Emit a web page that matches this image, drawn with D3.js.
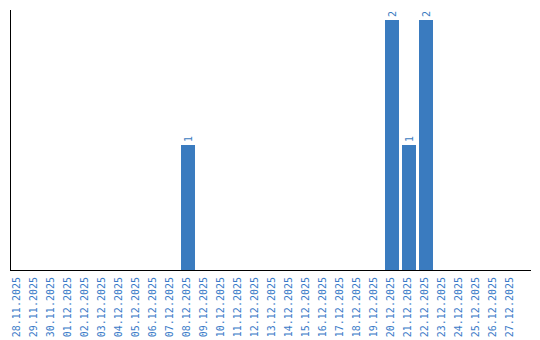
<!DOCTYPE html>
<html>
<head>
<meta charset="utf-8">
<script src="https://cdn.jsdelivr.net/npm/d3@7"></script>
<style>
body{margin:0;background:#fff;}
</style>
</head>
<body>
<div id="wrapper"></div>
<script>
// Data
const dates = ['28.11.2025','29.11.2025','30.11.2025','01.12.2025','02.12.2025','03.12.2025','04.12.2025','05.12.2025','06.12.2025','07.12.2025','08.12.2025','09.12.2025','10.12.2025','11.12.2025','12.12.2025','13.12.2025','14.12.2025','15.12.2025','16.12.2025','17.12.2025','18.12.2025','19.12.2025','20.12.2025','21.12.2025','22.12.2025','23.12.2025','24.12.2025','25.12.2025','26.12.2025','27.12.2025'];
const counts = [0,0,0,0,0,0,0,0,0,0,1,0,0,0,0,0,0,0,0,0,0,0,2,1,2,0,0,0,0,0];
const yMax = 2;

const dimensions = {width:540,height:340,left:11,right:518,top:20,bottom:270};
const barColor = '#3a7bbf';
const fontMono = '"DejaVu Sans Mono", monospace';

const svg = d3.select('#wrapper').append('svg')
    .attr('width',dimensions.width).attr('height',dimensions.height)
    .style('font-family',fontMono);

// Scales
const xScale = d3.scaleBand().domain(dates)
    .range([dimensions.left,dimensions.right]).paddingInner(3/17).paddingOuter(0);
const yScale = d3.scaleLinear().domain([0,yMax])
    .range([dimensions.bottom,dimensions.top]);

const data = dates.map((d,i)=>({date:d,value:counts[i]}));
const shown = data.filter(d=>d.value>0);

// Bars
svg.append('g').selectAll('rect').data(shown).enter().append('rect')
    .attr('x',d=>xScale(d.date)).attr('y',d=>yScale(d.value))
    .attr('width',xScale.bandwidth()).attr('height',d=>yScale(0)-yScale(d.value))
    .attr('fill',barColor);

// Bar value labels
svg.append('g').selectAll('text').data(shown).enter().append('text')
    .attr('transform',d=>`translate(${xScale(d.date)+xScale.bandwidth()/2},${yScale(d.value)-3}) rotate(-90)`)
    .attr('dy','0.35em').attr('font-size',10).attr('fill',barColor)
    .attr('font-family',fontMono)
    .text(d=>d.value);

// Axes
const xAxis = svg.append('g').attr('transform',`translate(0,${dimensions.bottom})`)
    .call(d3.axisBottom(xScale).tickSize(0).tickPadding(0));
xAxis.select('.domain').remove();
xAxis.selectAll('text')
    .attr('transform','rotate(-90)').attr('text-anchor','end')
    .attr('x',-7).attr('y',-2).attr('dy','0.35em')
    .attr('font-size',10).attr('font-family',fontMono)
    .attr('fill','#3a7bc8');

svg.append('line')
    .attr('x1',10.5).attr('x2',10.5).attr('y1',10).attr('y2',dimensions.bottom+1)
    .attr('stroke','#000').attr('stroke-width',1);
svg.append('line')
    .attr('x1',10).attr('x2',531).attr('y1',dimensions.bottom+0.5).attr('y2',dimensions.bottom+0.5)
    .attr('stroke','#000').attr('stroke-width',1);
</script>
</body>
</html>
